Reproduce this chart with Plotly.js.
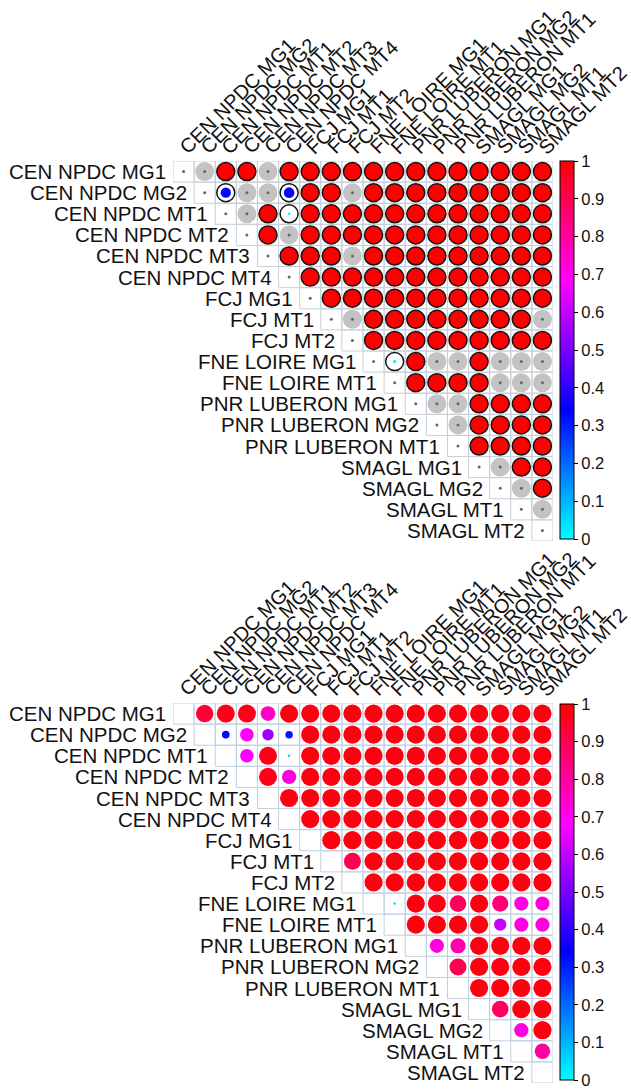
<!DOCTYPE html>
<html><head><meta charset="utf-8">
<script src="https://cdn.plot.ly/plotly-3.0.1.min.js"></script>
<style>html,body{margin:0;padding:0;background:#fff}#chart{width:631px;height:1090px}</style>
</head><body><div id="chart"></div>
<script>
// ---------------- DATA ----------------
const labels = ['CEN NPDC MG1','CEN NPDC MG2','CEN NPDC MT1','CEN NPDC MT2','CEN NPDC MT3','CEN NPDC MT4',
  'FCJ MG1','FCJ MT1','FCJ MT2','FNE LOIRE MG1','FNE LOIRE MT1','PNR LUBERON MG1','PNR LUBERON MG2',
  'PNR LUBERON MT1','SMAGL MG1','SMAGL MG2','SMAGL MT1','SMAGL MT2'];

// Top panel: row r lists the values of columns r+1..17 ; null = not significant (grey circle)
const topMatrix = [
  [null,1,1,null,1,1,1,1,1,1,1,1,1,1,1,1,1],
  [0.33,null,null,0.35,1,1,null,1,1,1,1,1,1,1,1,1],
  [null,1,0.02,1,1,1,1,1,1,1,1,1,1,1,1],
  [1,null,1,1,1,1,1,1,1,1,1,1,1,1],
  [1,1,1,null,1,1,1,1,1,1,1,1,1],
  [1,1,1,1,1,1,1,1,1,1,1,1],
  [1,1,1,1,1,1,1,1,1,1,1],
  [null,1,1,1,1,1,1,1,1,null],
  [1,1,1,1,1,1,1,1,1],
  [0.03,1,null,null,1,null,null,null],
  [1,1,1,1,null,null,null],
  [null,null,1,1,1,1],
  [null,1,1,1,1],
  [1,1,1,1],
  [null,1,1],
  [null,1],
  [null],
  []
];

// Bottom panel: row r lists the values of columns r+1..17
const bottomMatrix = [
  [0.93,0.97,0.97,0.75,0.98,0.98,0.98,0.98,0.98,0.98,0.98,0.98,0.98,0.98,0.98,0.98,0.98],
  [0.33,0.68,0.55,0.32,0.98,0.98,0.98,0.98,0.98,0.98,0.98,0.98,0.98,0.98,0.98,0.98],
  [0.68,0.97,0.05,0.98,0.98,0.98,0.98,0.98,0.98,0.98,0.98,0.98,0.98,0.98,0.98],
  [0.97,0.72,0.98,0.98,0.98,0.98,0.98,0.98,0.98,0.98,0.98,0.98,0.98,0.98],
  [0.98,0.98,0.98,0.98,0.98,0.98,0.98,0.98,0.98,0.98,0.98,0.98,0.98],
  [0.98,0.98,0.98,0.98,0.98,0.98,0.98,0.98,0.98,0.98,0.98,0.98],
  [0.98,0.98,0.98,0.98,0.98,0.98,0.98,0.98,0.98,0.98,0.98],
  [0.9,0.98,0.98,0.98,0.98,0.98,0.98,0.98,0.98,0.98],
  [0.98,0.98,0.98,0.98,0.98,0.98,0.98,0.98,0.98],
  [0.05,0.98,0.97,0.88,0.98,0.85,0.72,0.72],
  [0.98,0.98,0.98,0.98,0.6,0.72,0.72],
  [0.72,0.78,0.98,0.98,0.98,0.98],
  [0.9,0.98,0.98,0.98,0.98],
  [0.98,0.98,0.98,0.98],
  [0.88,0.98,0.98],
  [0.72,0.98],
  [0.8],
  []
];

const colorbarTickValues = [0,0.1,0.2,0.3,0.4,0.5,0.6,0.7,0.8,0.9,1];
const colorbarTickLabels = ['0','0.1','0.2','0.3','0.4','0.5','0.6','0.7','0.8','0.9','1'];

// ---------------- STYLE / LAYOUT ----------------
const W = 631, H = 1090;
const FONT = 'Liberation Sans, Arial, sans-serif';
const LABEL_SIZE = 20.5;
const COL_LABEL_SIZE = 20;
const colorscale = [[0,'#00ffff'],[0.34,'#0000ff'],[0.68,'#ff00ff'],[1,'#ff0000']];
const n = labels.length;
const gridLeft = 173, gridRight = 553;
const panels = [
  {top:161, bottom:541, cbTop:161, cbBottom:539, xa:'x', ya:'y', grid:'#c9ced8'},
  {top:703, bottom:1083, cbTop:704, cbBottom:1080, xa:'x2', ya:'y2', grid:'#bfd0e2'}
];

const traces = [];
const shapes = [];
const annotations = [];

function cells(matrix){
  const out = [];
  matrix.forEach((row, r) => row.forEach((v, k) => out.push({r, c: r + 1 + k, v})));
  return out;
}

// grid + labels for both panels
panels.forEach(p => {
  for (let r = 0; r < n; r++) {
    for (let c = r; c < n; c++) {
      shapes.push({type:'rect', xref:p.xa, yref:p.ya, x0:c-0.5, x1:c+0.5, y0:r-0.5, y1:r+0.5,
        line:{color:p.grid, width:1}, layer:'below'});
    }
    annotations.push({xref:p.xa, yref:p.ya, x:r-0.5, y:r, text:labels[r], showarrow:false,
      xanchor:'right', yanchor:'middle', xshift:-5, font:{family:FONT, size:LABEL_SIZE, color:'#111'}});
    annotations.push({xref:p.xa, yref:p.ya, x:r, y:-0.5, text:labels[r], showarrow:false,
      textangle:-45, xanchor:'left', yanchor:'bottom', xshift:-11, yshift:0,
      font:{family:FONT, size:COL_LABEL_SIZE, color:'#111'}});
  }
});

// ---- top panel traces ----
const topCells = cells(topMatrix);
const insig = topCells.filter(d => d.v === null);
const sig = topCells.filter(d => d.v !== null);
const diag = labels.map((_, i) => i);

traces.push({type:'scatter', mode:'markers', xaxis:'x', yaxis:'y', hoverinfo:'skip',
  x: insig.map(d => d.c), y: insig.map(d => d.r),
  marker:{size:19, color:'#c3c3c3', opacity:1, line:{width:0}}});
traces.push({type:'scatter', mode:'markers', xaxis:'x', yaxis:'y', hoverinfo:'skip',
  x: insig.map(d => d.c).concat(diag), y: insig.map(d => d.r).concat(diag),
  marker:{size:3, color:'#666', opacity:1, line:{width:0}}});
traces.push({type:'scatter', mode:'markers', xaxis:'x', yaxis:'y', hoverinfo:'skip',
  x: sig.map(d => d.c), y: sig.map(d => d.r),
  marker:{size: sig.map(d => Math.max(2.5, 18*Math.sqrt(d.v))), color: sig.map(d => d.v),
    coloraxis:'coloraxis', opacity:1, line:{width:0}}});
traces.push({type:'scatter', mode:'markers', xaxis:'x', yaxis:'y', hoverinfo:'skip',
  x: sig.map(d => d.c), y: sig.map(d => d.r),
  marker:{size:18, color:'rgba(0,0,0,0)', opacity:1, line:{color:'#141414', width:1.5}}});

// ---- bottom panel traces ----
const botCells = cells(bottomMatrix);
traces.push({type:'scatter', mode:'markers', xaxis:'x2', yaxis:'y2', hoverinfo:'skip',
  x: botCells.map(d => d.c), y: botCells.map(d => d.r),
  marker:{size: botCells.map(d => Math.max(2.5, 18.5*Math.pow(d.v, 0.8))), color: botCells.map(d => d.v),
    coloraxis:'coloraxis2', opacity:1, line:{width:0}}});

function axis(dom, isY){
  return {domain: dom, range: isY ? [n-0.5, -0.5] : [-0.5, n-0.5], showgrid:false, zeroline:false,
    showticklabels:false, ticks:'', showline:false, fixedrange:true};
}
function cbar(p){
  return {thickness:14, thicknessmode:'pixels', len:p.cbBottom-p.cbTop, lenmode:'pixels',
    x:560/W, xanchor:'left', xpad:0, y:1-((p.cbTop+p.cbBottom)/2)/H, yanchor:'middle', ypad:0,
    outlinewidth:1, outlinecolor:'#000', ticks:'outside', ticklen:4, tickwidth:1, tickcolor:'#000',
    ticklabeloverflow:'allow',
    tickvals:colorbarTickValues, ticktext:colorbarTickLabels,
    tickfont:{family:FONT, size:16.5, color:'#111'}};
}

const layout = {
  width:W, height:H, margin:{l:0, r:0, t:0, b:0, autoexpand:false}, showlegend:false,
  paper_bgcolor:'#fff', plot_bgcolor:'#fff',
  xaxis: axis([gridLeft/W, gridRight/W], false),
  yaxis: axis([1-panels[0].bottom/H, 1-panels[0].top/H], true),
  xaxis2: Object.assign(axis([gridLeft/W, gridRight/W], false), {anchor:'y2'}),
  yaxis2: Object.assign(axis([1-panels[1].bottom/H, 1-panels[1].top/H], true), {anchor:'x2'}),
  coloraxis: {colorscale, cmin:0, cmax:1, colorbar: cbar(panels[0])},
  coloraxis2: {colorscale, cmin:0, cmax:1, colorbar: cbar(panels[1])},
  shapes, annotations
};

Plotly.newPlot('chart', traces, layout, {staticPlot:true, displayModeBar:false});
</script></body></html>
